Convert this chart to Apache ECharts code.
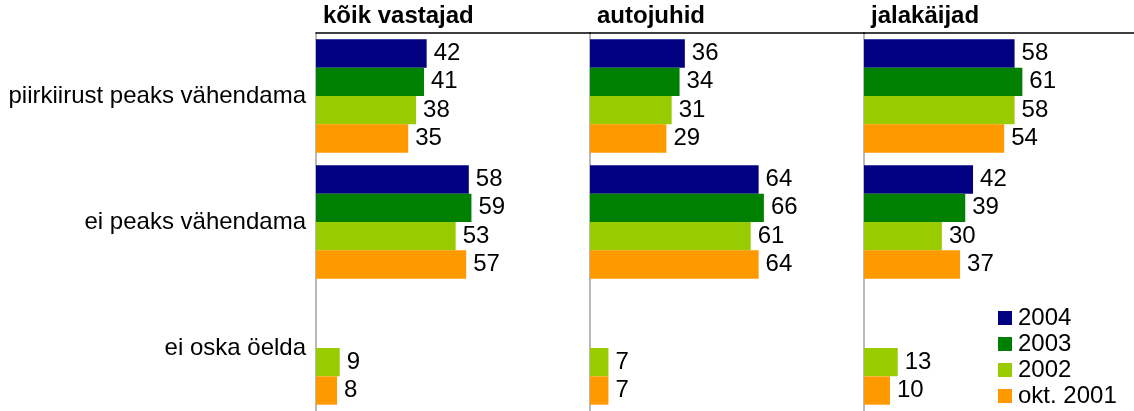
<!DOCTYPE html>
<html>
<head>
<meta charset="utf-8">
<script src="https://cdn.jsdelivr.net/npm/echarts@6/dist/echarts.min.js"></script>
<style>
  html, body { margin: 0; padding: 0; background: #fff; }
  #chart { width: 1134px; height: 411px; }
</style>
</head>
<body>
<div id="chart"></div>
<script>
// Answer categories (top to bottom)
const categories = ['piirkiirust peaks vähendama', 'ei peaks vähendama', 'ei oska öelda'];
// Survey rounds
const seriesNames = ['2004', '2003', '2002', 'okt. 2001'];
const seriesColors = ['#000080', '#008000', '#99CC00', '#FF9900'];
// Respondent groups (one panel each)
const panelTitles = ['kõik vastajad', 'autojuhid', 'jalakäijad'];

// Percentages per panel, one array per survey round
const koikVastajad = {
  '2004':      [42, 58, null],
  '2003':      [41, 59, null],
  '2002':      [38, 53, 9],
  'okt. 2001': [35, 57, 8]
};
const autojuhid = {
  '2004':      [36, 64, null],
  '2003':      [34, 66, null],
  '2002':      [31, 61, 7],
  'okt. 2001': [29, 64, 7]
};
const jalakaijad = {
  '2004':      [58, 42, null],
  '2003':      [61, 39, null],
  '2002':      [58, 30, 13],
  'okt. 2001': [54, 37, 10]
};
const panelData = [koikVastajad, autojuhid, jalakaijad];

const FONT = 'Arial, "Liberation Sans", sans-serif';
const FS = 24;
const panelLeft = [316, 590, 864];
const panelWidth = 274;

const grids = [], xAxes = [], yAxes = [], series = [], titles = [];
panelData.forEach((pd, p) => {
  grids.push({ left: panelLeft[p], top: 33, width: panelWidth, height: 380, containLabel: false });
  xAxes.push({
    type: 'value', gridIndex: p, position: 'top', min: 0, max: 104,
    axisLine: { show: true, lineStyle: { color: '#000', width: 1.5 } },
    axisTick: { show: false }, axisLabel: { show: false }, splitLine: { show: false }
  });
  yAxes.push({
    type: 'category', gridIndex: p, data: categories, inverse: true,
    axisLine: { show: true, lineStyle: { color: '#a0a0a0', width: 1.5 } },
    axisTick: { show: false },
    axisLabel: { show: p === 0, color: '#000', fontSize: FS, fontFamily: FONT, margin: 10 }
  });
  titles.push({
    text: panelTitles[p], left: panelLeft[p] + 7, top: 4, padding: 0,
    textStyle: { fontSize: FS, fontWeight: 'bold', color: '#000', fontFamily: FONT }
  });
  seriesNames.forEach((name, i) => {
    series.push({
      name, type: 'bar', xAxisIndex: p, yAxisIndex: p,
      data: pd[name],
      itemStyle: { color: seriesColors[i] },
      barGap: '0%', barCategoryGap: '10%',
      label: { show: true, position: 'right', distance: 7, color: '#000', fontSize: FS, fontFamily: FONT },
      animation: false
    });
  });
});

const chart = echarts.init(document.getElementById('chart'));
chart.setOption({
  backgroundColor: '#fff',
  animation: false,
  title: titles,
  legend: {
    data: seriesNames, orient: 'vertical', left: 998, top: 306, height: 120, padding: 0,
    itemWidth: 14, itemHeight: 14, itemGap: 2, icon: 'rect',
    textStyle: { fontSize: FS, lineHeight: 23.5, color: '#000', fontFamily: FONT, padding: [0, 0, 0, 1] }
  },
  grid: grids, xAxis: xAxes, yAxis: yAxes, series
});
</script>
</body>
</html>
